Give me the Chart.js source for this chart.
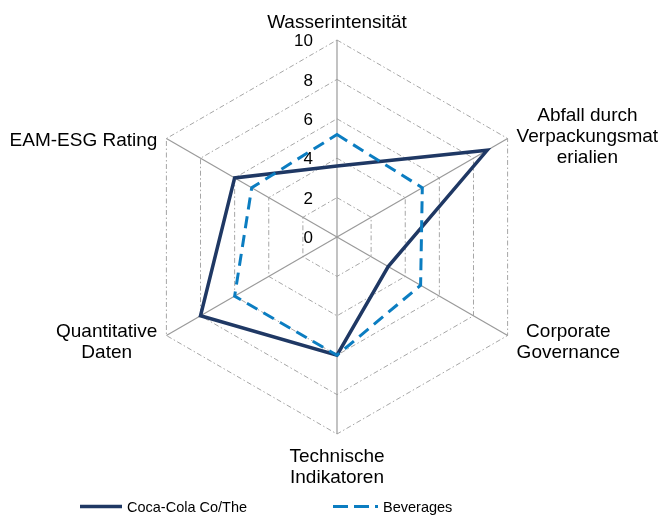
<!DOCTYPE html>
<html><head><meta charset="utf-8">
<script src="https://cdn.jsdelivr.net/npm/chart.js@4/dist/chart.umd.min.js"></script>
<style>html,body{margin:0;padding:0;background:#fff}</style>
</head><body>
<canvas id="c" width="669" height="515"></canvas>
<script>
const categories = [["Wasserintensität"], ["Abfall durch", "Verpackungsmat", "erialien"], ["Corporate", "Governance"], ["Technische", "Indikatoren"], ["Quantitative", "Daten"], ["EAM-ESG Rating"]];
const seriesNames = ["Coca-Cola Co/The", "Beverages"];
const cocaCola = [3.6, 8.8, 3.0, 6.0, 8.0, 6.0];
const beverages = [5.2, 5.0, 4.9, 6.0, 6.0, 5.0];
const tickValues = [0, 2, 4, 6, 8, 10];

const NAVY = '#1f3864';
const BLUE = '#0b7dc1';
const FONT = '"Liberation Sans", Arial, sans-serif';

// label placement relative to each outer vertex: side (-1 left, 0 centered, 1 right), first baseline offset
const labelLayout = [
  {side: 0, dy: -12.5}, {side: 1, dy: -18}, {side: 1, dy: 1.5},
  {side: 0, dy: 27.5}, {side: -1, dy: 1.5}, {side: -1, dy: 7.5}
];

const textPlugin = {
  id: 'textPlugin',
  beforeDatasetsDraw(chart) {
    const s = chart.scales.r, ctx = chart.ctx;
    ctx.save();
    ctx.fillStyle = '#000';
    ctx.font = '17px ' + FONT;
    ctx.textAlign = 'right';
    ctx.textBaseline = 'middle';
    s.ticks.forEach(t => {
      const d = s.getDistanceFromCenterForValue(t.value);
      ctx.fillText(t.label, s.xCenter - 24, s.yCenter - d + 1.5);
    });
    ctx.restore();
  },
  afterDraw(chart) {
    const s = chart.scales.r, ctx = chart.ctx;
    ctx.save();
    ctx.fillStyle = '#000';
    ctx.font = '19px ' + FONT;
    ctx.textAlign = 'center';
    ctx.textBaseline = 'alphabetic';
    const lh = 21.3;
    categories.forEach((lines, i) => {
      const p = s.getPointPosition(i, s.drawingArea);
      const lay = labelLayout[i];
      const maxW = Math.max(...lines.map(l => ctx.measureText(l).width));
      let cx = p.x;
      if (lay.side === 1) cx = p.x + 9 + maxW / 2;
      if (lay.side === -1) cx = p.x - 9 - maxW / 2;
      lines.forEach((l, k) => ctx.fillText(l, cx, p.y + lay.dy + k * lh));
    });
    // legend
    const ly = chart.height - 8.5;
    const items = [
      {x: 80, w: 42, color: NAVY, dash: [], lw: 3.5, text: seriesNames[0]},
      {x: 333, w: 45, color: BLUE, dash: [15, 6], lw: 3, text: seriesNames[1]}
    ];
    ctx.font = '14.5px ' + FONT;
    ctx.textAlign = 'left';
    ctx.textBaseline = 'middle';
    items.forEach(it => {
      ctx.save();
      ctx.strokeStyle = it.color;
      ctx.lineWidth = it.lw;
      ctx.setLineDash(it.dash);
      ctx.beginPath();
      ctx.moveTo(it.x, ly);
      ctx.lineTo(it.x + it.w, ly);
      ctx.stroke();
      ctx.restore();
      ctx.fillText(it.text, it.x + it.w + 5, ly + 1);
    });
    ctx.restore();
  }
};

new Chart(document.getElementById('c'), {
  type: 'radar',
  data: {
    labels: categories.map(c => c.join(' ')),
    datasets: [
      {label: seriesNames[0], data: cocaCola, borderColor: NAVY, borderWidth: 3.5, fill: false,
       pointRadius: 0, pointHoverRadius: 0, borderJoinStyle: 'miter', tension: 0, order: 1},
      {label: seriesNames[1], data: beverages, borderColor: BLUE, borderWidth: 3, borderDash: [12, 7],
       fill: false, pointRadius: 0, pointHoverRadius: 0, borderJoinStyle: 'miter', tension: 0, order: 0}
    ]
  },
  options: {
    responsive: false,
    animation: false,
    devicePixelRatio: 1,
    layout: {padding: {left: 55, right: 50, top: 40, bottom: 81}},
    plugins: {legend: {display: false}, tooltip: {enabled: false}},
    scales: {
      r: {
        min: 0, max: 10,
        afterBuildTicks(scale) { scale.ticks = tickValues.map(v => ({value: v, label: String(v)})); },
        ticks: {display: false, stepSize: 2},
        pointLabels: {display: false},
        grid: {color: '#a6a6a6', lineWidth: 1},
        border: {dash: [5, 2.5, 1.5, 2.5]},
        angleLines: {color: '#9a9a9a', lineWidth: 1.2}
      }
    }
  },
  plugins: [textPlugin]
});
</script>
</body></html>
